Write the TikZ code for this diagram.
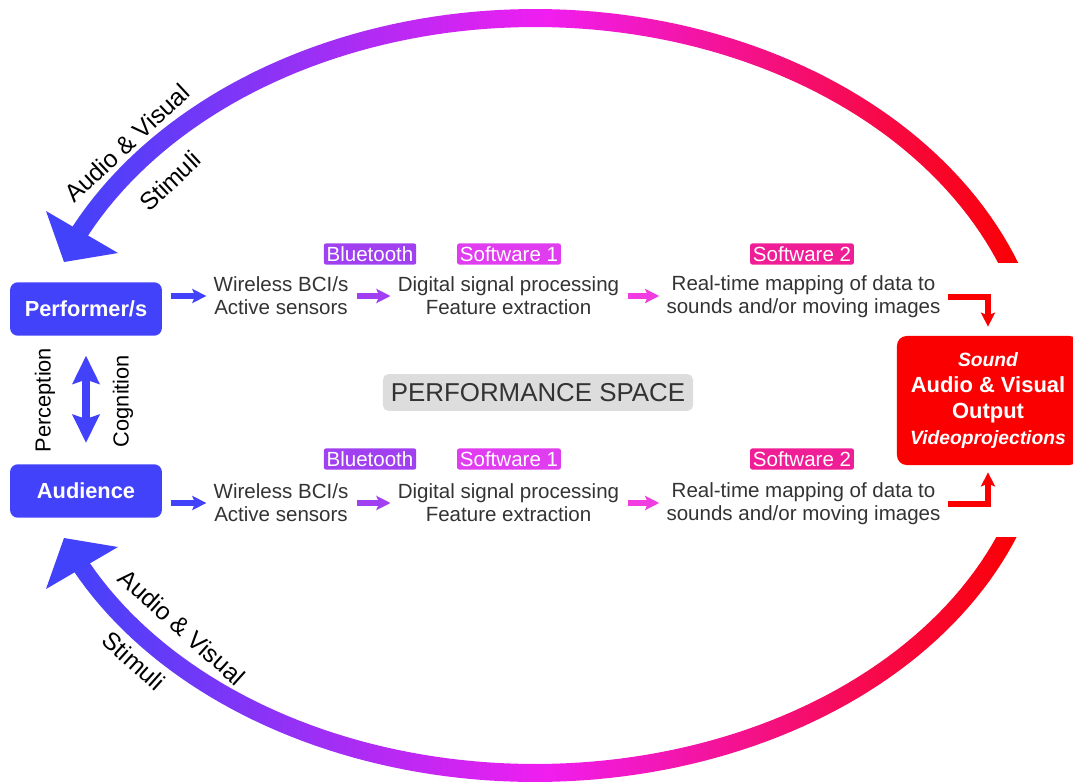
\documentclass[tikz,border=0pt]{standalone}
\usepackage{fontspec}
\setmainfont{Liberation Sans}
\usetikzlibrary{arrows.meta}
\definecolor{bciblue}{RGB}{66,66,250}
\definecolor{btpurple}{RGB}{160,64,240}
\definecolor{swmag}{RGB}{224,60,240}
\definecolor{swpink}{RGB}{240,30,150}
\definecolor{arrowmag}{RGB}{240,60,225}
\definecolor{arcmag}{RGB}{240,30,240}
\definecolor{outred}{RGB}{250,0,0}
\definecolor{txtgray}{RGB}{51,51,51}
\definecolor{spacegray}{RGB}{221,221,221}
\begin{document}
\begin{tikzpicture}[x=0.025cm, y=-0.025cm, line join=round,
	txt/.style={align=center, inner sep=0pt, text=txtgray, font=\fontsize{14.6}{16.4}\selectfont},
	who/.style={fill=bciblue, text=white, rounded corners=5.5pt, minimum width=108pt, minimum height=38pt, font=\bfseries\fontsize{15.5}{18}\selectfont},
	tag/.style={text=white, rounded corners=1.5pt, inner xsep=2pt, inner ysep=0pt, minimum height=15pt, font=\fontsize{14.6}{16}\selectfont},
	arclab/.style={inner sep=0pt, font=\fontsize{17.5}{20}\selectfont},
	side/.style={rotate=90, inner sep=0pt, font=\fontsize{15.5}{18}\selectfont},
	harrow/.style={line width=3.6pt, -{Stealth[length=10pt, width=10pt, inset=2pt]}, shorten <=6pt, shorten >=5pt},
	redarrow/.style={outred, line width=3.6pt, line join=miter, -{Stealth[length=10pt, width=10pt, inset=2pt]}, shorten <=5.5pt}]
	\def\cx{535} \def\cy{400} \def\ra{507} % ellipse of the arcs
	\def\bt{382} \def\bb{373} \def\hw{9}
	\useasboundingbox (0,0) rectangle (1073,782);
	\clip (0,0) rectangle (1073,782);
	% arcs
	\begin{scope}
		\clip (0,0) rectangle (1073,262);
		\shade[left color=bciblue, right color=outred, middle color=arcmag]
		plot[domain=19:155, samples=90] ({\cx+(\ra+\hw)*cos(\x)}, {\cy-(\bt+\hw)*sin(\x)})
		-- plot[domain=155:19, samples=90] ({\cx+(\ra-\hw)*cos(\x)}, {\cy-(\bt-\hw)*sin(\x)}) -- cycle;
	\end{scope}
	\begin{scope}
		\clip (0,537) rectangle (1073,782);
		\shade[left color=bciblue, right color=outred, middle color=arcmag]
		plot[domain=19:155, samples=90] ({\cx+(\ra+\hw)*cos(\x)}, {\cy+(\bb+\hw)*sin(\x)})
		-- plot[domain=155:19, samples=90] ({\cx+(\ra-\hw)*cos(\x)}, {\cy+(\bb-\hw)*sin(\x)}) -- cycle;
	\end{scope}
	\fill[bciblue] (64,262) -- (46,211) -- (118,253) -- cycle;
	\fill[bciblue] (64,538) -- (46,589) -- (118,547) -- cycle;
	\node[arclab, rotate=43] (avtop) at (127,143) {Audio \& Visual};
	\node[arclab, rotate=43] (sttop) at (170,181) {Stimuli};
	\node[arclab, rotate=-42] (avbot) at (182,627) {Audio \& Visual};
	\node[arclab, rotate=-42] (stbot) at (134,661) {Stimuli};
	% people
	\node[who] (perf) at (86,309) {Performer/s};
	\node[who] (aud) at (86,491) {Audience};
	\draw[bciblue, line width=5pt, {Stealth[length=20pt, width=19pt, inset=3pt]}-{Stealth[length=20pt, width=19pt, inset=3pt]}, shorten <=14pt, shorten >=15pt] (perf.south) -- (aud.north);
	\node[side] (perc) at (45,400) {Perception};
	\node[side] (cogn) at (123,401) {Cognition};
	\node[fill=spacegray, rounded corners=4pt, text=txtgray, minimum width=220.5pt, minimum height=26.3pt, font=\fontsize{18.4}{20}\selectfont] (space) at (538,392.5) {PERFORMANCE SPACE};
	% output
	\node[fill=outred, text=white, rounded corners=7pt, minimum width=129.5pt, minimum height=91.8pt, align=center, font=\bfseries\fontsize{15.6}{18.7}\selectfont] (out) at (988,400.5) {{\fontsize{13.7}{18.7}\selectfont\itshape Sound}\\Audio \& Visual\\Output\\{\fontsize{13.7}{18.7}\selectfont\itshape Videoprojections}};
	% upper chain
	\node[tag, fill=btpurple] (bt1) at (370,254) {Bluetooth};
	\node[tag, fill=swmag] (sw1) at (509,254) {Software 1};
	\node[tag, fill=swpink] (swb1) at (802,254) {Software 2};
	\node[txt] (wl1) at (281,296) {Wireless BCI/s\\Active sensors};
	\node[txt] (dsp1) at (508.5,296) {Digital signal processing\\Feature extraction};
	\node[txt] (rt1) at (803.5,297) {Real-time mapping of data to\\sounds and/or moving images};
	\draw[harrow, bciblue] (perf.east |- wl1.west) -- (wl1.west);
	\draw[harrow, btpurple] (wl1.east) -- (dsp1.west);
	\draw[harrow, arrowmag] (dsp1.east) -- (dsp1.east -| rt1.west);
	\draw[redarrow, shorten >=6.4pt] (rt1.east) -| (out.north);
	% lower chain
	\node[tag, fill=btpurple] (bt2) at (370,459) {Bluetooth};
	\node[tag, fill=swmag] (sw2) at (509,459) {Software 1};
	\node[tag, fill=swpink] (swb2) at (802,459) {Software 2};
	\node[txt] (wl2) at (281,503) {Wireless BCI/s\\Active sensors};
	\node[txt] (dsp2) at (508.5,503) {Digital signal processing\\Feature extraction};
	\node[txt] (rt2) at (803.5,504) {Real-time mapping of data to\\sounds and/or moving images};
	\draw[harrow, bciblue] (aud.east |- wl2.west) -- (wl2.west);
	\draw[harrow, btpurple] (wl2.east) -- (dsp2.west);
	\draw[harrow, arrowmag] (dsp2.east) -- (dsp2.east -| rt2.west);
	\draw[redarrow, shorten >=5pt] (rt2.east) -| (out.south);
\end{tikzpicture}
\end{document}
